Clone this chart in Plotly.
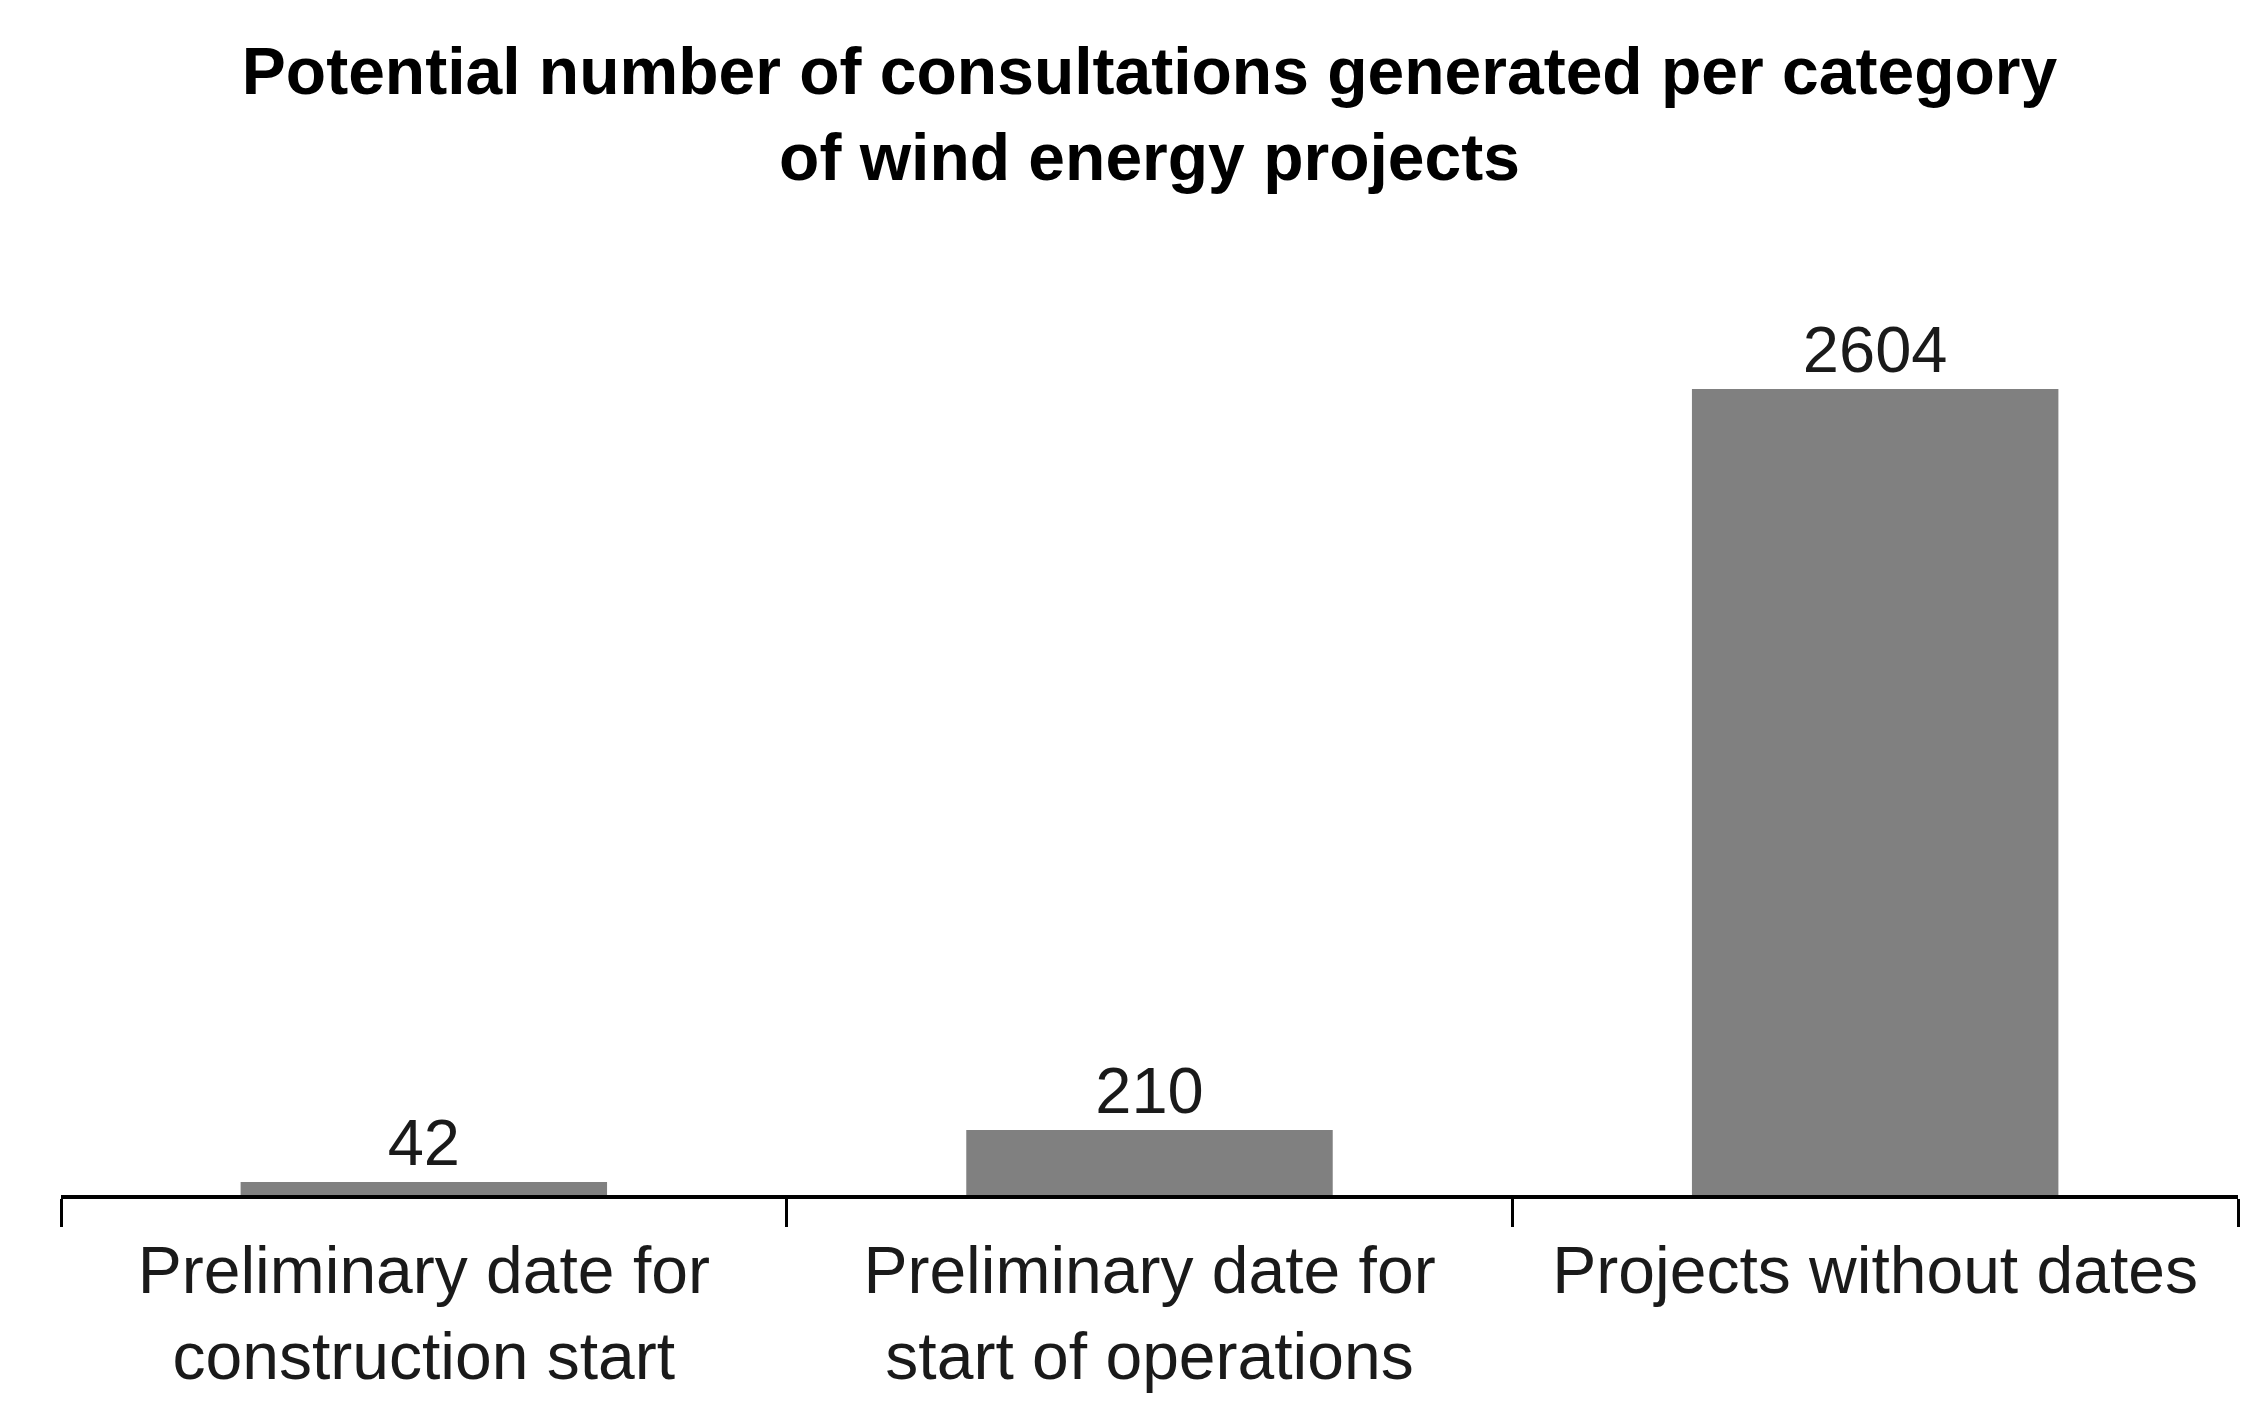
import plotly.graph_objects as go

categories = ["Preliminary date for<br>construction start",
              "Preliminary date for<br>start of operations",
              "Projects without dates"]
values = [42, 210, 2604]
value_labels = ["42", "210", "2604"]

title_text = "<b>Potential number of consultations generated per category<br>of wind energy projects</b>"

fig = go.Figure(go.Bar(
    x=categories,
    y=values,
    text=value_labels,
    textposition="outside",
    textfont=dict(size=65, color="#1a1a1a", family="Liberation Sans, Arial, sans-serif"),
    marker=dict(color="#808080", line=dict(width=0)),
    cliponaxis=False,
))

fig.update_layout(
    width=2264, height=1405,
    margin=dict(l=53, r=34, t=230, b=218),
    paper_bgcolor="white", plot_bgcolor="white",
    font=dict(family="Liberation Sans, Arial, sans-serif", color="#1a1a1a", size=62),
    title=dict(text=title_text, x=0.5, xref="paper", xanchor="center",
               y=1 - 86 / 1405, yref="container", yanchor="middle",
               font=dict(size=66, color="#000000")),
    bargap=0.495,
    showlegend=False,
)

fig.update_xaxes(
    type="category", range=[-0.5, 2.5], tickson="boundaries",
    showline=True, linecolor="#000000", linewidth=4,
    ticks="outside", ticklen=28, tickwidth=3, tickcolor="#000000",
    tickfont=dict(size=66, color="#1a1a1a"),
    ticklabelstandoff=15,
    showgrid=False, zeroline=False,
)
fig.update_yaxes(visible=False, range=[0, 3092], showgrid=False, zeroline=False)

fig.write_html("out.html")
